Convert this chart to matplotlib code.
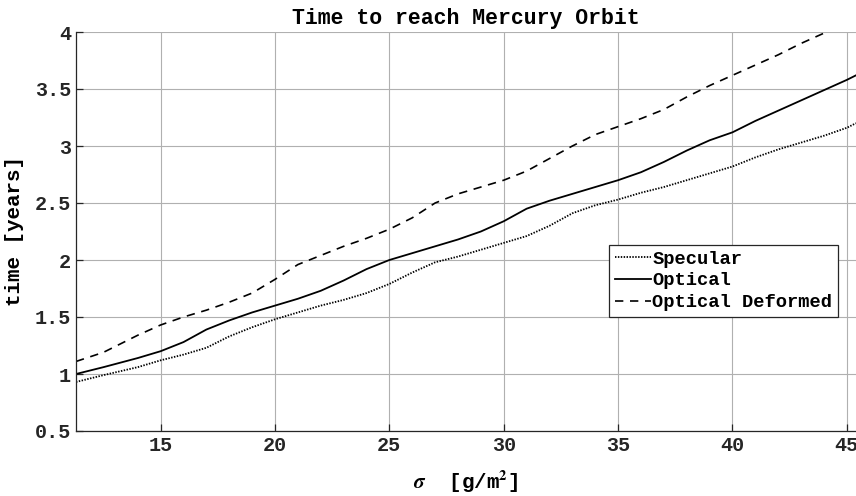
import matplotlib
matplotlib.use("Agg")
import matplotlib.pyplot as plt

# sail areal density sigma [g/m^2]
sigma = [11.3, 12.5, 14, 15, 16, 17, 18, 19, 20, 21, 22, 23, 24, 25, 26, 27, 28,
         29, 30, 31, 32, 33, 34, 35, 36, 37, 38, 39, 40, 41, 42, 43, 44, 45, 45.4]

# transfer time [years]
specular = [0.93, 0.99, 1.06, 1.12, 1.17, 1.23, 1.33, 1.41, 1.48, 1.54, 1.60, 1.65,
            1.71, 1.79, 1.89, 1.98, 2.03, 2.09, 2.15, 2.21, 2.30, 2.41, 2.48, 2.53,
            2.59, 2.64, 2.70, 2.76, 2.82, 2.90, 2.97, 3.03, 3.09, 3.16, 3.20]
optical = [1.00, 1.06, 1.14, 1.20, 1.28, 1.39, 1.47, 1.54, 1.60, 1.66, 1.73, 1.82,
           1.92, 2.00, 2.06, 2.12, 2.18, 2.25, 2.34, 2.45, 2.52, 2.58, 2.64, 2.70,
           2.77, 2.86, 2.96, 3.05, 3.12, 3.22, 3.31, 3.40, 3.49, 3.58, 3.62]
optical_deformed = [1.11, 1.19, 1.34, 1.43, 1.50, 1.56, 1.63, 1.71, 1.83, 1.96, 2.04,
                    2.12, 2.19, 2.27, 2.37, 2.50, 2.58, 2.64, 2.70, 2.78, 2.89, 3.00,
                    3.10, 3.17, 3.24, 3.32, 3.43, 3.53, 3.62, 3.71, 3.80, 3.90, 3.99,
                    4.07, 4.10]

series_labels = ["Specular", "Optical", "Optical Deformed"]
x_ticks = [15, 20, 25, 30, 35, 40, 45]
y_ticks = [0.5, 1, 1.5, 2, 2.5, 3, 3.5, 4]

plt.rcParams["font.family"] = ["Liberation Mono", "DejaVu Sans Mono"]
plt.rcParams["font.weight"] = "bold"
plt.rcParams["mathtext.fontset"] = "stix"

fig = plt.figure(figsize=(8.56, 4.96), dpi=100)
ax = fig.add_axes([76 / 856, 1 - 431 / 496, 780 / 856, 399 / 496])

ax.plot(sigma, specular, color="black", lw=1.3, linestyle=(0, (0.8, 0.8)),
        label=series_labels[0])
ax.plot(sigma, optical, color="black", lw=1.3, linestyle="-",
        label=series_labels[1])
ax.plot(sigma, optical_deformed, color="black", lw=1.2, linestyle=(0, (5, 4)),
        label=series_labels[2])

ax.set_xlim(11.3, 45.4)
ax.set_ylim(0.5, 4)
ax.set_xticks(x_ticks)
ax.set_yticks(y_ticks)
ax.set_yticklabels(["0.5", "1", "1.5", "2", "2.5", "3", "3.5", "4"])

ax.grid(True, color="#b0b0b0", lw=0.8)
ax.set_axisbelow(True)
for side in ("top", "right"):
    ax.spines[side].set_visible(False)
for side in ("left", "bottom"):
    ax.spines[side].set_color("#262626")
    ax.spines[side].set_linewidth(0.9)
ax.tick_params(direction="in", length=5, width=0.9, colors="#262626",
               labelsize=14.5, labelcolor="#262626")
for lab in ax.get_xticklabels() + ax.get_yticklabels():
    lab.set_fontweight("bold")

ax.set_title("Time to reach Mercury Orbit", fontsize=15.5, fontweight="bold",
             pad=6)
ax.set_xlabel(r"$\sigma$  [g/m$^\mathbf{2}$]", fontsize=15, fontweight="bold",
              labelpad=10)
ax.set_ylabel("time [years]", fontsize=15, fontweight="bold", labelpad=8)

leg = ax.legend(loc="lower right", bbox_to_anchor=(0.977, 0.286),
                prop={"family": "Liberation Mono", "weight": "bold", "size": 13.5},
                handlelength=1.9, handletextpad=0.1, borderpad=0.3,
                labelspacing=0.25, borderaxespad=0, fancybox=False,
                framealpha=1, edgecolor="#262626")
leg.get_frame().set_linewidth(0.9)

fig.savefig("out.png", dpi=100)
